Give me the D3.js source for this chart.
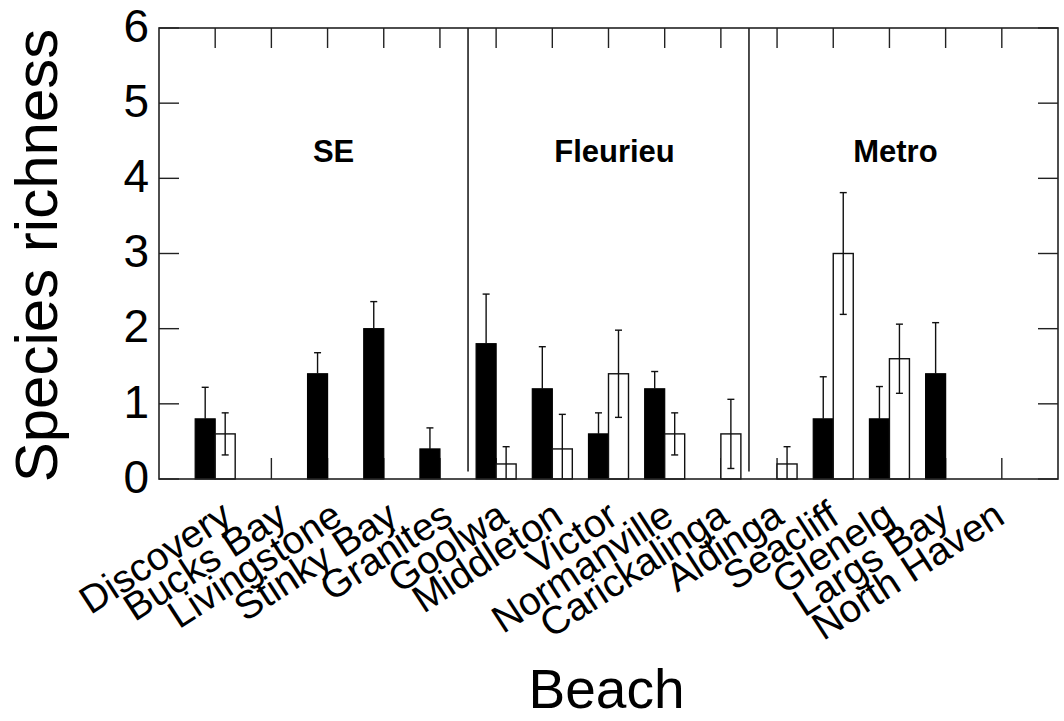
<!DOCTYPE html>
<html>
<head>
<meta charset="utf-8">
<script src="https://cdn.jsdelivr.net/npm/d3@7"></script>
<style>
  html, body { margin: 0; padding: 0; background: #fff; }
  svg { display: block; font-family: "Liberation Sans", Arial, sans-serif; }
</style>
</head>
<body>
<svg id="chart" width="1064" height="721"></svg>
<script>
// ---- data ----
const beaches = ["Discovery", "Bucks Bay", "Livingstone", "Stinky Bay", "Granites",
  "Goolwa", "Middleton", "Victor", "Normanville", "Carickalinga",
  "Aldinga", "Seacliff", "Glenelg", "Largs Bay", "North Haven"];
const blackMean = [0.8, 0, 1.4, 2.0, 0.4, 1.8, 1.2, 0.6, 1.2, 0, 0, 0.8, 0.8, 1.4, 0];
const blackSE   = [0.42, 0, 0.28, 0.36, 0.28, 0.66, 0.56, 0.28, 0.23, 0, 0, 0.56, 0.43, 0.68, 0];
const whiteMean = [0.6, 0, 0, 0, 0, 0.2, 0.4, 1.4, 0.6, 0.6, 0.2, 3.0, 1.6, 0, 0];
const whiteSE   = [0.28, 0, 0, 0, 0, 0.23, 0.46, 0.58, 0.28, 0.46, 0.23, 0.81, 0.46, 0, 0];
const regions = ["SE", "Fleurieu", "Metro"];
const regionStart = [0, 5, 10];
const regionEnd = [4, 9, 14];
const yTicks = [0, 1, 2, 3, 4, 5, 6];

// ---- layout ----
const svg = d3.select("#chart");
const L = 159, R = 1058, T = 28, B = 479;
const x = d3.scaleLinear().domain([-1, beaches.length]).range([L, R]);
const y = d3.scaleLinear().domain([0, 6]).range([B, T]);
// label anchors (slightly tighter spacing than the ticks, as in the original)
const xLab = d3.scaleLinear().domain([0, beaches.length - 1])
  .range([x(0) + 19, x(beaches.length - 1) + 5]);
const bw = 20; // bar width px
const tickLen = 20;
const lineCol = "#222";

const g = svg.append("g");

// bottom ticks (drawn first, bars cover them)
g.selectAll(".btick").data(beaches).join("line")
  .attr("x1", (d, i) => x(i)).attr("x2", (d, i) => x(i))
  .attr("y1", B).attr("y2", B - tickLen - 1)
  .attr("stroke", lineCol).attr("stroke-width", 1.4);

// top ticks
g.selectAll(".ttick").data(beaches).join("line")
  .attr("x1", (d, i) => x(i)).attr("x2", (d, i) => x(i))
  .attr("y1", T).attr("y2", T + tickLen)
  .attr("stroke", lineCol).attr("stroke-width", 1.4);

// left & right ticks
yTicks.forEach(t => {
  g.append("line").attr("x1", L).attr("x2", L + tickLen)
    .attr("y1", y(t)).attr("y2", y(t)).attr("stroke", lineCol).attr("stroke-width", 1.4);
  g.append("line").attr("x1", R).attr("x2", R - tickLen)
    .attr("y1", y(t)).attr("y2", y(t)).attr("stroke", lineCol).attr("stroke-width", 1.4);
});

// separators
const seps = regionEnd.slice(0, -1).map((e, i) => (e + regionStart[i + 1]) / 2);
g.selectAll(".sep").data(seps).join("line")
  .attr("x1", d => x(d)).attr("x2", d => x(d))
  .attr("y1", T).attr("y2", y(0.1))
  .attr("stroke", "#111").attr("stroke-width", 1.5);

// bars
const bars = g.append("g");
beaches.forEach((b, i) => {
  const cx = x(i);
  if (blackMean[i] > 0) {
    bars.append("rect").attr("x", cx - bw).attr("width", bw)
      .attr("y", y(blackMean[i])).attr("height", y(0) - y(blackMean[i]))
      .attr("fill", "#000").attr("stroke", "#000").attr("stroke-width", 1.2);
  }
  if (whiteMean[i] > 0) {
    bars.append("rect").attr("x", cx).attr("width", bw)
      .attr("y", y(whiteMean[i])).attr("height", y(0) - y(whiteMean[i]))
      .attr("fill", "#fff").attr("stroke", "#111").attr("stroke-width", 1.4);
  }
});

// error bars
function errBar(cx, m, se, upperOnly) {
  if (se <= 0) return;
  const hi = m + se, lo = upperOnly ? m : Math.max(0, m - se);
  bars.append("line").attr("x1", cx).attr("x2", cx).attr("y1", y(lo)).attr("y2", y(hi))
    .attr("stroke", "#111").attr("stroke-width", 1.4);
  bars.append("line").attr("x1", cx - 3.5).attr("x2", cx + 3.5).attr("y1", y(hi)).attr("y2", y(hi))
    .attr("stroke", "#111").attr("stroke-width", 1.4);
  if (!upperOnly && m - se > 0) {
    bars.append("line").attr("x1", cx - 3.5).attr("x2", cx + 3.5).attr("y1", y(lo)).attr("y2", y(lo))
      .attr("stroke", "#111").attr("stroke-width", 1.4);
  }
}
beaches.forEach((b, i) => {
  if (blackMean[i] > 0) errBar(x(i) - bw / 2, blackMean[i], blackSE[i], true);
  if (whiteMean[i] > 0) errBar(x(i) + bw / 2, whiteMean[i], whiteSE[i], false);
});

// frame
g.append("rect").attr("x", L).attr("y", T).attr("width", R - L).attr("height", B - T)
  .attr("fill", "none").attr("stroke", lineCol).attr("stroke-width", 1.6);

// y tick labels
g.selectAll(".ylab").data(yTicks).join("text")
  .attr("x", L - 10).attr("y", d => y(d)).attr("dy", "0.3em")
  .attr("text-anchor", "end").attr("font-size", 46).attr("fill", "#000")
  .text(d => d);

// x tick labels
g.selectAll(".xlab").data(beaches).join("text")
  .attr("transform", (d, i) => `translate(${xLab(i)},522) rotate(-33)`)
  .attr("text-anchor", "end").attr("font-size", 39).attr("fill", "#000")
  .text(d => d);

// region labels
regions.forEach((r, k) => {
  const cx = x((regionStart[k] + regionEnd[k]) / 2) + 6;
  g.append("text").attr("x", cx).attr("y", 162)
    .attr("text-anchor", "middle").attr("font-size", 31).attr("font-weight", "bold")
    .attr("fill", "#000").text(r);
});

// axis titles
g.append("text").attr("transform", `translate(57,${(T + B) / 2 + 2}) rotate(-90)`)
  .attr("text-anchor", "middle").attr("font-size", 60).attr("fill", "#000")
  .text("Species richness");
g.append("text").attr("x", (L + R) / 2 - 2).attr("y", 708)
  .attr("text-anchor", "middle").attr("font-size", 55).attr("fill", "#000")
  .text("Beach");
</script>
</body>
</html>
